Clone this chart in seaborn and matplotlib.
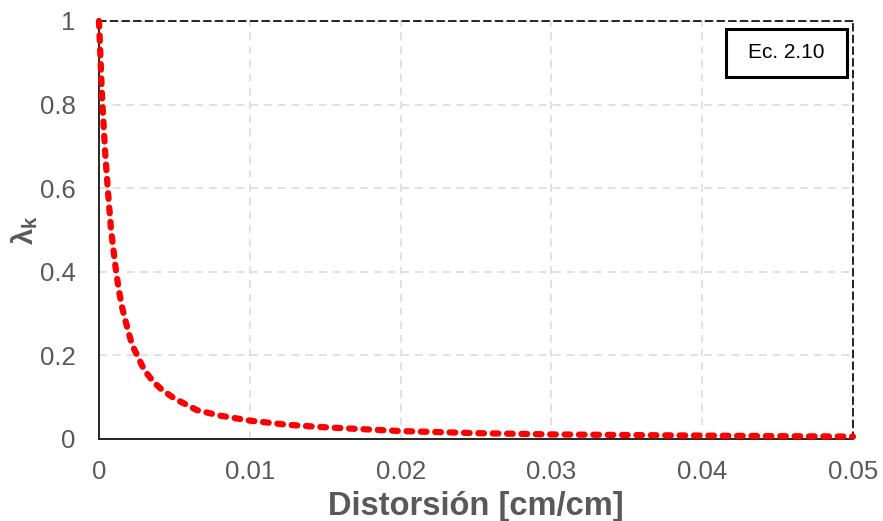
import matplotlib
matplotlib.use("Agg")
import matplotlib.pyplot as plt
from matplotlib.patches import Rectangle
from matplotlib.ticker import FixedLocator, FuncFormatter
import seaborn as sns
import pandas as pd

# Distortion [cm/cm] and the corresponding lambda_k values
distorsion = [0.0, 0.0002, 0.0004, 0.0006, 0.0008, 0.0011, 0.0013, 0.0015,
              0.0017, 0.002, 0.0022, 0.0026, 0.003, 0.0036, 0.0042, 0.005,
              0.0065, 0.008, 0.01, 0.0125, 0.015, 0.02, 0.025, 0.03,
              0.0375, 0.045, 0.05]
lambda_k = [1.0, 0.82, 0.69, 0.59, 0.50, 0.41, 0.36, 0.32,
            0.29, 0.25, 0.225, 0.195, 0.165, 0.137, 0.117, 0.097,
            0.069, 0.056, 0.044, 0.034, 0.028, 0.019, 0.014, 0.011,
            0.0088, 0.0068, 0.0058]

x_ticks = [0.0, 0.01, 0.02, 0.03, 0.04, 0.05]
y_ticks = [0.0, 0.2, 0.4, 0.6, 0.8, 1.0]
x_label = "Distorsión [cm/cm]"
y_label = "λ$_\\mathbf{k}$"
eq_label = "Ec. 2.10"

df = pd.DataFrame({"x": distorsion, "y": lambda_k})

sns.set_theme(style="white")
plt.rcParams["font.family"] = ["Liberation Sans", "DejaVu Sans"]
plt.rcParams["mathtext.fontset"] = "custom"
plt.rcParams["mathtext.bf"] = "Liberation Sans:bold"

fig = plt.figure(figsize=(8.83, 5.21), dpi=100)
ax = fig.add_axes([99 / 883, 82 / 521, 754 / 883, 418 / 521])

sns.lineplot(data=df, x="x", y="y", ax=ax, color="#ff0000", linewidth=4.5,
             sort=False, zorder=5)
line = ax.lines[0]
line.set_linestyle((0, (0.9, 1.4)))
line.set_dash_capstyle("round")
line.set_clip_on(False)

ax.set_xlim(0, 0.05)
ax.set_ylim(0, 1)
ax.xaxis.set_major_locator(FixedLocator(x_ticks))
ax.yaxis.set_major_locator(FixedLocator(y_ticks))
fmt = FuncFormatter(lambda v, p: f"{v:g}")
ax.xaxis.set_major_formatter(fmt)
ax.yaxis.set_major_formatter(fmt)

ax.tick_params(axis="both", length=0, labelsize=18.5, labelcolor="#595959")
ax.tick_params(axis="x", pad=15)
ax.tick_params(axis="y", pad=17)

ax.grid(True, color="#d9d9d9", linestyle=(0, (5, 4)), linewidth=1.1)
ax.set_axisbelow(True)

for side in ("top", "right"):
    ax.spines[side].set_linestyle((0, (4, 3)))
    ax.spines[side].set_color("black")
    ax.spines[side].set_linewidth(1.2)
for side in ("left", "bottom"):
    ax.spines[side].set_color("#262626")
    ax.spines[side].set_linewidth(1.4)

ax.set_xlabel(x_label, fontsize=23.5, fontweight="bold", color="#595959", labelpad=5)
ax.set_ylabel(y_label, fontsize=21, fontweight="bold", color="#595959", labelpad=0)

ax.add_patch(Rectangle((0.8316, 0.866), 0.1604, 0.115, transform=ax.transAxes,
                       facecolor="white", edgecolor="black", linewidth=2.2,
                       zorder=6))
ax.text(0.9112, 0.9235, eq_label, transform=ax.transAxes, ha="center",
        va="center", fontsize=15, color="black", zorder=7)

fig.savefig("out.png", dpi=100)
